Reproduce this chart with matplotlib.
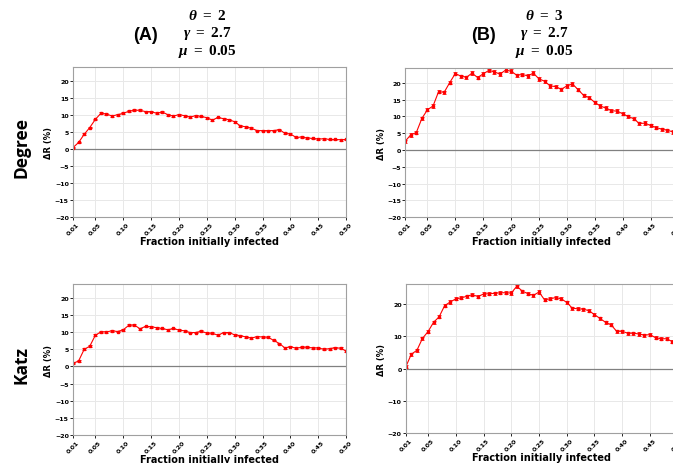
import numpy as np
import matplotlib
matplotlib.use("Agg")
import matplotlib.pyplot as plt

plt.rcParams["mathtext.fontset"] = "custom"
plt.rcParams["mathtext.it"] = "Liberation Serif:italic:bold"
plt.rcParams["mathtext.rm"] = "Liberation Serif:bold"
plt.rcParams["mathtext.bf"] = "Liberation Serif:bold"

# fraction initially infected, 0.01 ... 0.50
frac = [round(0.01 * i, 2) for i in range(1, 51)]
xtick_vals = [0.01, 0.05, 0.10, 0.15, 0.20, 0.25, 0.30, 0.35, 0.40, 0.45, 0.50]
xtick_labels = ["0.01", "0.05", "0.10", "0.15", "0.20", "0.25", "0.30", "0.35", "0.40", "0.45", "0.50"]

degree_theta2 = [0.5, 2.0, 4.4, 6.4, 8.8, 10.6, 10.4, 9.8, 10.2, 10.6,
                 11.2, 11.5, 11.5, 11.1, 11.1, 10.6, 11.0, 10.2, 9.8, 10.2,
                 9.9, 9.5, 9.9, 9.7, 9.3, 8.6, 9.4, 9.0, 8.7, 8.1,
                 6.9, 6.6, 6.2, 5.5, 5.5, 5.5, 5.5, 5.8, 4.7, 4.5,
                 3.5, 3.6, 3.3, 3.2, 3.0, 3.1, 2.9, 2.9, 2.8, 2.9]
degree_theta3 = [2.6, 4.5, 5.2, 9.4, 12.0, 13.1, 17.4, 17.2, 20.1, 22.8,
                 22.0, 21.7, 22.9, 21.6, 22.7, 23.7, 23.3, 22.6, 23.8, 23.5,
                 22.3, 22.5, 22.1, 22.9, 21.2, 20.5, 19.1, 18.9, 18.1, 19.1,
                 19.7, 18.0, 16.3, 15.6, 14.2, 13.1, 12.5, 11.7, 11.6, 10.8,
                 10.0, 9.3, 7.9, 8.0, 7.3, 6.7, 6.2, 5.9, 5.4, 5.0]
katz_theta2 = [0.9, 1.6, 5.0, 5.9, 9.1, 10.1, 10.1, 10.4, 10.2, 10.7,
               12.0, 12.1, 11.0, 11.7, 11.6, 11.3, 11.1, 10.7, 11.1, 10.6,
               10.4, 9.9, 9.9, 10.3, 9.7, 9.7, 9.1, 9.9, 9.9, 9.2,
               9.0, 8.6, 8.3, 8.7, 8.6, 8.5, 7.6, 6.7, 5.4, 5.8,
               5.3, 5.6, 5.6, 5.4, 5.4, 5.0, 5.2, 5.5, 5.3, 4.5]
katz_theta3 = [0.6, 4.5, 5.7, 9.4, 11.5, 14.4, 16.1, 19.6, 20.7, 21.7,
               22.0, 22.5, 23.0, 22.4, 23.2, 23.3, 23.4, 23.6, 23.6, 23.5,
               25.6, 24.1, 23.3, 22.8, 23.8, 21.4, 21.7, 22.1, 21.7, 20.6,
               18.8, 18.6, 18.5, 18.0, 16.8, 15.6, 14.4, 13.6, 11.6, 11.6,
               11.0, 11.0, 10.8, 10.4, 10.6, 9.6, 9.3, 9.3, 8.4, 7.8]

panels = [
    # data, err, axes rect (left, bottom, width, height), ylim top, yticks
    (degree_theta2, 0.25, [0.1085, 0.530, 0.406, 0.323], 24.2, np.arange(-20, 21, 5)),
    (degree_theta3, 0.5, [0.602, 0.530, 0.406, 0.321], 24.4, np.arange(-20, 21, 5)),
    (katz_theta2, 0.25, [0.1085, 0.0603, 0.406, 0.325], 24.0, np.arange(-20, 21, 5)),
    (katz_theta3, 0.5, [0.603, 0.0647, 0.404, 0.321], 26.3, np.arange(-20, 21, 10)),
]

fig = plt.figure(figsize=(6.73, 4.64), dpi=100)

for data, err, rect, ytop, yticks in panels:
    ax = fig.add_axes(rect)
    ax.errorbar(frac, data, yerr=err, color="red", lw=0.8, marker="s", ms=1.5,
                capsize=1.5, elinewidth=0.6, capthick=0.6)
    ax.axhline(0, color="grey", lw=0.9)
    ax.set_xlim(0.01, 0.50)
    ax.set_ylim(-20, ytop)
    ax.set_xticks(xtick_vals)
    ax.set_xticklabels(xtick_labels, rotation=45, fontsize=4.5, fontweight="bold")
    ax.set_yticks(yticks)
    ax.set_yticklabels([str(t).replace("-", "\u2212") for t in yticks], fontsize=4.5, fontweight="bold")
    ax.tick_params(length=2, width=0.6, pad=1)
    ax.grid(True, color="#e8e8e8", lw=0.7)
    ax.set_axisbelow(True)
    for s in ax.spines.values():
        s.set_color("#a0a0a0")
        s.set_linewidth(0.8)
    ax.set_xlabel("Fraction initially infected", fontsize=7, fontweight="bold", labelpad=0)
    ax.set_ylabel("ΔR (%)", fontsize=6, fontweight="bold", labelpad=1)

# column headers
fig.text(146 / 673, 1 - 35 / 464, "(A)", fontsize=13, fontweight="bold",
         family="Liberation Sans", ha="center", va="center")
fig.text(484 / 673, 1 - 35 / 464, "(B)", fontsize=13, fontweight="bold",
         family="Liberation Sans", ha="center", va="center")
for cx, theta in [(207, "2"), (544, "3")]:
    fig.text(cx / 673, 1 - 16 / 464, r"$\theta\ =\ %s$" % theta, fontsize=11, ha="center", va="center")
    fig.text(cx / 673, 1 - 34 / 464, r"$\gamma\ =\ 2.7$", fontsize=11, ha="center", va="center")
    fig.text(cx / 673, 1 - 52 / 464, r"$\mu\ =\ 0.05$", fontsize=11, ha="center", va="center")

# row labels
fig.text(22 / 673, 1 - 147 / 464, "Degree", fontsize=12.5, fontweight="bold",
         family="Open Sans", rotation=90, ha="center", va="center")
fig.text(22 / 673, 1 - 365 / 464, "Katz", fontsize=12.5, fontweight="bold",
         family="Open Sans", rotation=90, ha="center", va="center")

fig.savefig("out.png", dpi=100)
